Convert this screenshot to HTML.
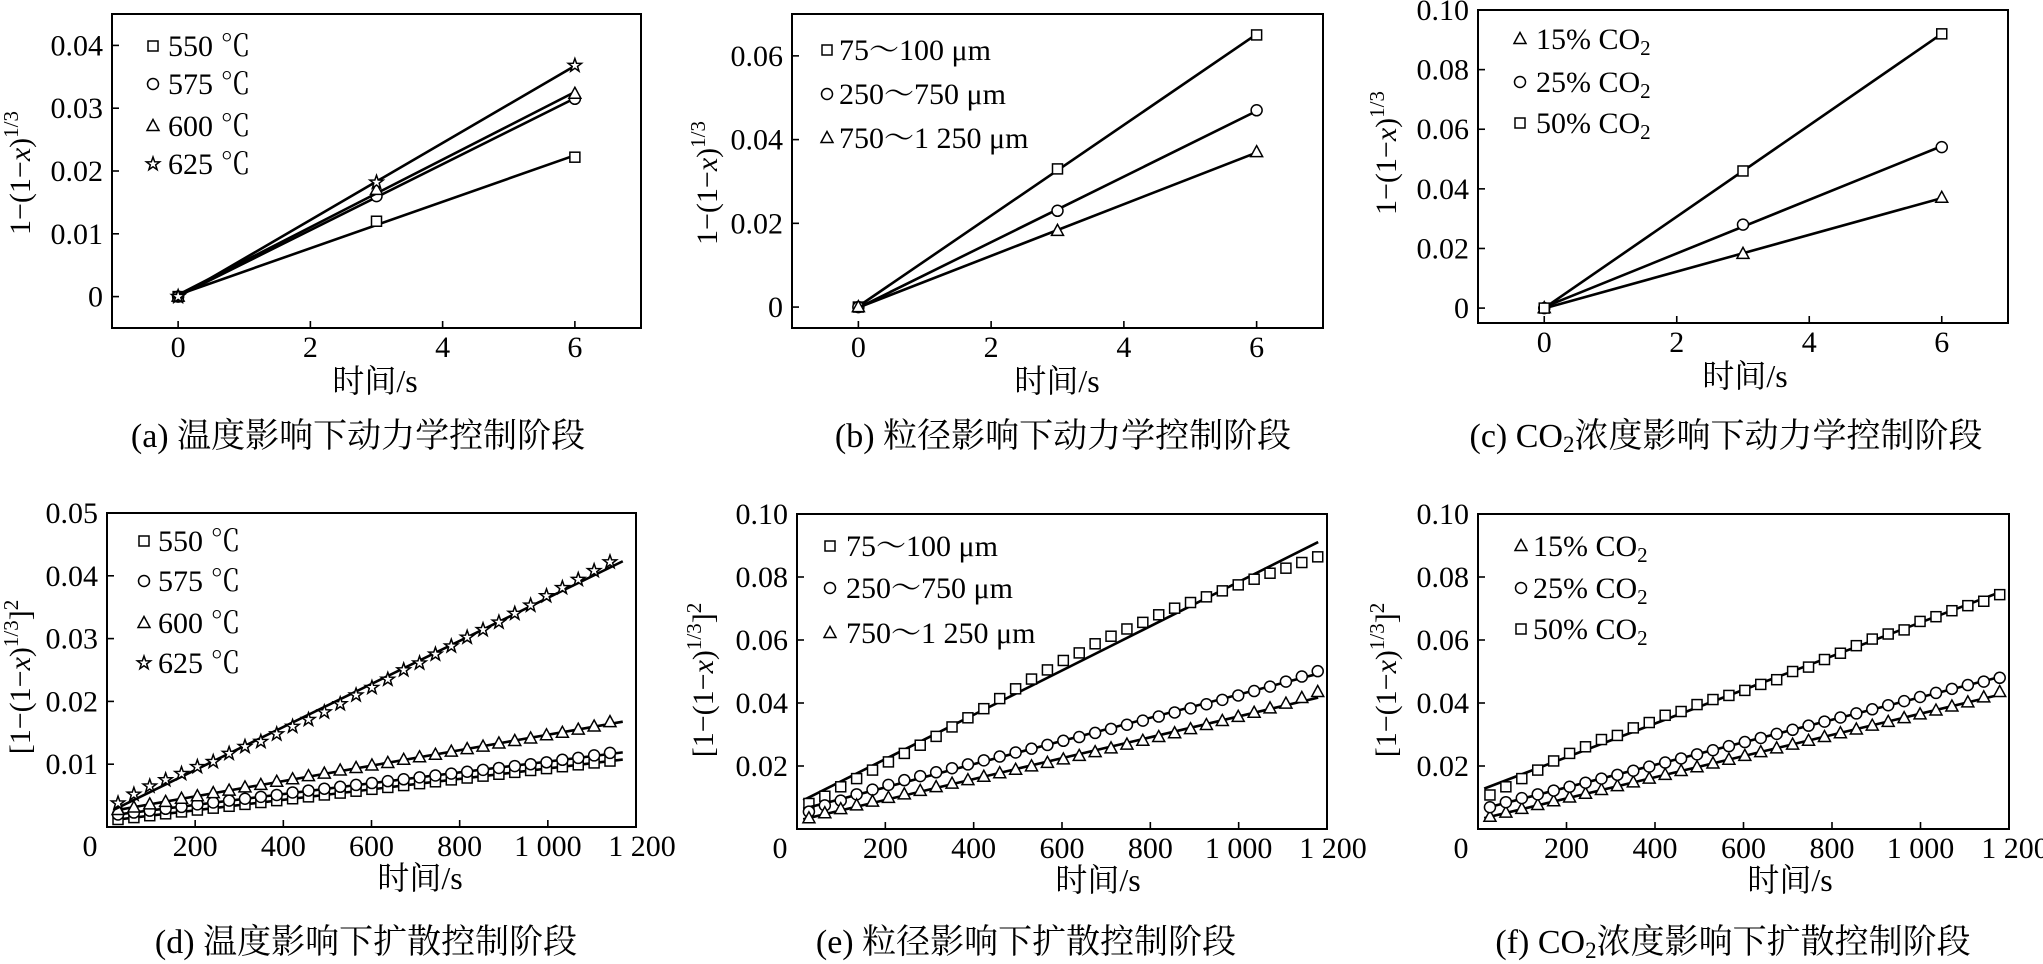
<!DOCTYPE html>
<html><head><meta charset="utf-8"><style>
html,body{margin:0;padding:0;background:#fff}
svg{display:block}
text{font-family:"Liberation Serif","Noto Serif CJK SC",serif;fill:#000}
</style></head><body>
<svg id="fig" width="2043" height="964" viewBox="0 0 2043 964" xmlns="http://www.w3.org/2000/svg"></svg>
<script>
// ---- data: kinetic stage (top row) ----
const timesTop = [0, 3, 6];
const a550 = [0, 0.0120, 0.0222];
const a575 = [0, 0.0160, 0.0315];
const a600 = [0, 0.0170, 0.0323];
const a625 = [0, 0.0182, 0.0368];
const b75 = [0, 0.0330, 0.0650];
const b250 = [0, 0.0230, 0.0470];
const b750 = [0, 0.0182, 0.0370];
const c15 = [0, 0.0182, 0.0370];
const c25 = [0, 0.0280, 0.0540];
const c50 = [0, 0.0460, 0.0920];
// ---- data: diffusion stage (bottom row) ----
const timesD = [25,61,97,133,169,205,241,277,313,349,385,421,457,493,529,565,601,637,673,709,745,781,817,853,889,925,961,997,1033,1069,1105,1141];
const timesEF = [27,63,99,135,171,207,243,279,315,351,387,423,459,495,531,567,603,639,675,711,747,783,819,855,891,927,963,999,1035,1071,1107,1143,1179];
const d550 = [0.0012,0.0015,0.0018,0.0021,0.0024,0.0027,0.0030,0.0033,0.0036,0.0039,0.0042,0.0045,0.0048,0.0051,0.0054,0.0057,0.0060,0.0063,0.0066,0.0069,0.0072,0.0075,0.0078,0.0081,0.0084,0.0087,0.0090,0.0093,0.0096,0.0099,0.0102,0.0105];
const d575 = [0.0020,0.0023,0.0026,0.0029,0.0032,0.0036,0.0039,0.0042,0.0045,0.0048,0.0051,0.0055,0.0058,0.0061,0.0064,0.0067,0.0070,0.0073,0.0076,0.0079,0.0082,0.0085,0.0088,0.0091,0.0094,0.0097,0.0100,0.0103,0.0107,0.0110,0.0114,0.0118];
const d600 = [0.0027,0.0031,0.0036,0.0040,0.0045,0.0049,0.0054,0.0058,0.0063,0.0067,0.0072,0.0076,0.0081,0.0085,0.0090,0.0094,0.0098,0.0102,0.0107,0.0111,0.0115,0.0120,0.0124,0.0128,0.0133,0.0137,0.0141,0.0146,0.0150,0.0155,0.0160,0.0167];
const d625 = [0.0038,0.0052,0.0065,0.0075,0.0085,0.0096,0.0104,0.0117,0.0128,0.0136,0.0148,0.0160,0.0171,0.0183,0.0196,0.0210,0.0222,0.0235,0.0250,0.0261,0.0275,0.0288,0.0302,0.0314,0.0326,0.0340,0.0353,0.0368,0.0381,0.0394,0.0408,0.0422];
const e75 = [0.0081,0.0104,0.0134,0.0160,0.0187,0.0213,0.0240,0.0266,0.0294,0.0324,0.0353,0.0382,0.0414,0.0445,0.0476,0.0505,0.0535,0.0559,0.0588,0.0612,0.0635,0.0656,0.0680,0.0701,0.0719,0.0737,0.0756,0.0775,0.0793,0.0812,0.0828,0.0846,0.0864];
const e250 = [0.0055,0.0075,0.0090,0.0110,0.0125,0.0140,0.0155,0.0168,0.0180,0.0193,0.0205,0.0218,0.0230,0.0243,0.0255,0.0267,0.0280,0.0292,0.0305,0.0318,0.0331,0.0344,0.0357,0.0370,0.0383,0.0396,0.0410,0.0424,0.0438,0.0452,0.0468,0.0484,0.0501];
const e750 = [0.0034,0.0050,0.0063,0.0075,0.0087,0.0099,0.0110,0.0121,0.0133,0.0144,0.0155,0.0166,0.0177,0.0188,0.0199,0.0210,0.0221,0.0232,0.0244,0.0256,0.0268,0.0280,0.0292,0.0304,0.0317,0.0330,0.0343,0.0356,0.0369,0.0383,0.0398,0.0416,0.0435];
const f15 = [0.0039,0.0052,0.0064,0.0076,0.0088,0.0100,0.0112,0.0124,0.0136,0.0148,0.0160,0.0172,0.0184,0.0196,0.0208,0.0220,0.0232,0.0244,0.0256,0.0268,0.0280,0.0292,0.0304,0.0316,0.0328,0.0340,0.0352,0.0364,0.0376,0.0389,0.0402,0.0418,0.0435];
const f25 = [0.0069,0.0085,0.0098,0.0110,0.0122,0.0134,0.0147,0.0160,0.0172,0.0185,0.0198,0.0211,0.0224,0.0237,0.0250,0.0263,0.0276,0.0289,0.0302,0.0315,0.0328,0.0341,0.0354,0.0367,0.0380,0.0393,0.0406,0.0419,0.0432,0.0445,0.0457,0.0468,0.0480];
const f50 = [0.0108,0.0134,0.0160,0.0187,0.0216,0.0240,0.0261,0.0284,0.0297,0.0321,0.0338,0.0361,0.0373,0.0395,0.0411,0.0424,0.0440,0.0459,0.0474,0.0500,0.0514,0.0538,0.0558,0.0582,0.0603,0.0619,0.0632,0.0659,0.0674,0.0693,0.0709,0.0723,0.0744];
// ---- tick labels ----
const xTicksTop = [0, 2, 4, 6];
const xTickLabelsTop = ["0", "2", "4", "6"];
const xTicksBot = [0, 200, 400, 600, 800, 1000, 1200];
const xTickLabelsBot = ["0", "200", "400", "600", "800", "1 000", "1 200"];
const yTicksA = [0, 0.01, 0.02, 0.03, 0.04];
const yLabelsA = ["0", "0.01", "0.02", "0.03", "0.04"];
const yTicksB = [0, 0.02, 0.04, 0.06];
const yLabelsB = ["0", "0.02", "0.04", "0.06"];
const yTicksC = [0, 0.02, 0.04, 0.06, 0.08, 0.10];
const yLabelsC = ["0", "0.02", "0.04", "0.06", "0.08", "0.10"];
const yTicksD = [0.01, 0.02, 0.03, 0.04, 0.05];
const yLabelsD = ["0.01", "0.02", "0.03", "0.04", "0.05"];
const yTicksEF = [0.02, 0.04, 0.06, 0.08, 0.10];
const yLabelsEF = ["0.02", "0.04", "0.06", "0.08", "0.10"];
const labelsT = ["550 ℃", "575 ℃", "600 ℃", "625 ℃"];
const labelsP = ["75～100 μm", "250～750 μm", "750～1 250 μm"];
const labelsC = ["15% CO|2", "25% CO|2", "50% CO|2"];

const NS = "http://www.w3.org/2000/svg";
const svg = document.getElementById("fig");
function mk(tag, attrs, parent) {
  const e = document.createElementNS(NS, tag);
  for (const k in attrs) e.setAttribute(k, attrs[k]);
  (parent || svg).appendChild(e);
  return e;
}
function marker(g, kind, x, y) {
  let e;
  const st = {fill: "#fff", stroke: "#000", "stroke-width": 1.5};
  if (kind === "sq") { e = mk("rect", Object.assign({x: x-5, y: y-5, width: 10, height: 10}, st), g); }
  else if (kind === "ci") { e = mk("circle", Object.assign({cx: x, cy: y, r: 5.5}, st), g); }
  else if (kind === "tr") { e = mk("path", Object.assign({d: `M${x},${y-6.5} L${x+6},${y+4.5} L${x-6},${y+4.5} Z`}, st), g); }
  else {
    let d = "";
    for (let i = 0; i < 10; i++) {
      const r = i % 2 ? 2.8 : 7; const an = -Math.PI/2 + i*Math.PI/5;
      d += (i ? "L" : "M") + (x + r*Math.cos(an)).toFixed(2) + "," + (y + r*Math.sin(an)).toFixed(2);
    }
    e = mk("path", Object.assign({d: d + "Z"}, st), g);
  }
  
  
  return e;
}
function fit(xs, ys) {
  const n = xs.length; let sx=0, sy=0, sxx=0, sxy=0;
  for (let i=0;i<n;i++){sx+=xs[i];sy+=ys[i];sxx+=xs[i]*xs[i];sxy+=xs[i]*ys[i];}
  const m = (n*sxy - sx*sy)/(n*sxx - sx*sx); return {m: m, b: (sy - m*sx)/n};
}
function legendText(g, x, y, label) {
  const t = mk("text", {x: x, y: y, "font-size": 30}, g);
  const parts = label.split("|");
  t.appendChild(document.createTextNode(parts[0]));
  if (parts[1]) { const s = mk("tspan", {"font-size": 21, dy: 6}, t); s.textContent = parts[1]; }
  return t;
}
function panel(p) {
  const g = mk("g", {});
  
  
  const X = v => p.L + (v - p.x0) / (p.x1 - p.x0) * (p.R - p.L);
  const Y = v => p.B - (v - p.y0) / (p.y1 - p.y0) * (p.B - p.T);
  p.xt.forEach((v, i) => {
    if (v > p.x0 && v < p.x1) {
      const tk = mk("line", {x1: X(v), x2: X(v), y1: p.B, y2: p.B - 7, stroke: "#000", "stroke-width": 1.6}, g);
      
      
    }
    let lx = X(v);
    if (p.bottom && i === 0) lx = p.L - 17;
    if (p.bottom && i === p.xt.length - 1) lx = p.R + 6;
    const t = mk("text", {x: lx, y: p.B + 29, "font-size": 30, "text-anchor": "middle"}, g);
    t.textContent = p.xl[i];
    
    
  });
  p.yt.forEach((v, i) => {
    if (v > p.y0 && v < p.y1) {
      const tk = mk("line", {x1: p.L, x2: p.L + 7, y1: Y(v), y2: Y(v), stroke: "#000", "stroke-width": 1.6}, g);
      
      
    }
    const t = mk("text", {x: p.L - 9, y: Y(v) + 10, "font-size": 30, "text-anchor": "end"}, g);
    t.textContent = p.yl[i];
    
    
  });
  p.series.forEach((s, si) => {
    const sg = mk("g", {}, g);
    
    
    const f = fit(p.times, s.v);
    const ln = mk("line", {x1: X(p.fx0), y1: Y(f.m*p.fx0 + f.b), x2: X(p.fx1), y2: Y(f.m*p.fx1 + f.b), stroke: "#000", "stroke-width": 2.6}, sg);
    
    
    p.times.forEach((t, i) => marker(sg, s.k, X(t), Y(s.v[i])));
    const ly = p.leg.y[si];
    const lg = mk("g", {}, g);
    
    
    marker(lg, s.k, p.leg.mx, ly - 10);
    legendText(lg, p.leg.tx, ly, s.label);
  });
  const fr = mk("rect", {x: p.L, y: p.T, width: p.R - p.L, height: p.B - p.T, fill: "none", stroke: "#000", "stroke-width": 2}, g);
  
  
  const xt = mk("text", {x: p.xtx, y: p.B + (p.bottom ? 62 : 64), "font-size": 32, "text-anchor": "middle"}, g);
  xt.textContent = "时间/s";
  
  
  const yt = mk("text", {x: 0, y: 0, "font-size": 30, "text-anchor": "middle", transform: `translate(${p.ytx},${p.yty}) rotate(-90)`}, g);
  
  
  yt.innerHTML = p.bottom
    ? '[1−(1−<tspan font-style="italic">x</tspan>)<tspan font-size="21" dy="-12">1/3</tspan><tspan dy="12">]</tspan><tspan font-size="21" dy="-12">2</tspan>'
    : '1−(1−<tspan font-style="italic">x</tspan>)<tspan font-size="21" dy="-12">1/3</tspan>';
  const cp = mk("text", {x: p.cx, y: p.bottom ? 953 : 447, "font-size": 34, "text-anchor": "middle"}, g);
  cp.innerHTML = p.cap;
  
  
}
const co2 = '<tspan font-size="23" dy="5">2</tspan><tspan dy="-5">';
panel({name: "panel-a", L: 112, R: 641, T: 14, B: 328, x0: -1, x1: 7, y0: -0.005, y1: 0.045, xt: xTicksTop, xl: xTickLabelsTop, yt: yTicksA, yl: yLabelsA,
  times: timesTop, fx0: 0, fx1: 6, xtx: 375, ytx: 30, yty: 173, cx: 358, cap: "(a)  温度影响下动力学控制阶段",
  leg: {mx: 153, tx: 168, y: [56, 94, 136, 174]},
  series: [{id: "550", k: "sq", v: a550, label: labelsT[0]}, {id: "575", k: "ci", v: a575, label: labelsT[1]}, {id: "600", k: "tr", v: a600, label: labelsT[2]}, {id: "625", k: "st", v: a625, label: labelsT[3]}]});
panel({name: "panel-b", L: 792, R: 1323, T: 14, B: 328, x0: -1, x1: 7, y0: -0.005, y1: 0.07, xt: xTicksTop, xl: xTickLabelsTop, yt: yTicksB, yl: yLabelsB,
  times: timesTop, fx0: 0, fx1: 6, xtx: 1057, ytx: 717, yty: 183, cx: 1063, cap: "(b)  粒径影响下动力学控制阶段",
  leg: {mx: 827, tx: 839, y: [60, 104, 148]},
  series: [{id: "75-100", k: "sq", v: b75, label: labelsP[0]}, {id: "250-750", k: "ci", v: b250, label: labelsP[1]}, {id: "750-1250", k: "tr", v: b750, label: labelsP[2]}]});
panel({name: "panel-c", L: 1478, R: 2008, T: 10, B: 323, x0: -1, x1: 7, y0: -0.005, y1: 0.10, xt: xTicksTop, xl: xTickLabelsTop, yt: yTicksC, yl: yLabelsC,
  times: timesTop, fx0: 0, fx1: 6, xtx: 1745, ytx: 1396, yty: 153, cx: 1726, cap: "(c)  CO" + co2 + "浓度影响下动力学控制阶段</tspan>",
  leg: {mx: 1520, tx: 1536, y: [49, 92, 133]},
  series: [{id: "15", k: "tr", v: c15, label: labelsC[0]}, {id: "25", k: "ci", v: c25, label: labelsC[1]}, {id: "50", k: "sq", v: c50, label: labelsC[2]}]});
panel({name: "panel-d", bottom: true, L: 107, R: 636, T: 513, B: 827, x0: 0, x1: 1200, y0: 0, y1: 0.05, xt: xTicksBot, xl: xTickLabelsBot, yt: yTicksD, yl: yLabelsD,
  times: timesD, fx0: 15, fx1: 1170, xtx: 420, ytx: 30, yty: 677, cx: 366, cap: "(d)  温度影响下扩散控制阶段",
  leg: {mx: 144, tx: 158, y: [551, 591, 633, 673]},
  series: [{id: "550", k: "sq", v: d550, label: labelsT[0]}, {id: "575", k: "ci", v: d575, label: labelsT[1]}, {id: "600", k: "tr", v: d600, label: labelsT[2]}, {id: "625", k: "st", v: d625, label: labelsT[3]}]});
panel({name: "panel-e", bottom: true, L: 797, R: 1327, T: 514, B: 829, x0: 0, x1: 1200, y0: 0, y1: 0.10, xt: xTicksBot, xl: xTickLabelsBot, yt: yTicksEF, yl: yLabelsEF,
  times: timesEF, fx0: 14, fx1: 1180, xtx: 1098, ytx: 713, yty: 680, cx: 1026, cap: "(e)  粒径影响下扩散控制阶段",
  leg: {mx: 830, tx: 846, y: [556, 598, 643]},
  series: [{id: "75-100", k: "sq", v: e75, label: labelsP[0]}, {id: "250-750", k: "ci", v: e250, label: labelsP[1]}, {id: "750-1250", k: "tr", v: e750, label: labelsP[2]}]});
panel({name: "panel-f", bottom: true, L: 1478, R: 2009, T: 514, B: 829, x0: 0, x1: 1200, y0: 0, y1: 0.10, xt: xTicksBot, xl: xTickLabelsBot, yt: yTicksEF, yl: yLabelsEF,
  times: timesEF, fx0: 14, fx1: 1180, xtx: 1790, ytx: 1396, yty: 680, cx: 1733, cap: "(f)  CO" + co2 + "浓度影响下扩散控制阶段</tspan>",
  leg: {mx: 1521, tx: 1533, y: [556, 598, 639]},
  series: [{id: "15", k: "tr", v: f15, label: labelsC[0]}, {id: "25", k: "ci", v: f25, label: labelsC[1]}, {id: "50", k: "sq", v: f50, label: labelsC[2]}]});
</script>
</body></html>
